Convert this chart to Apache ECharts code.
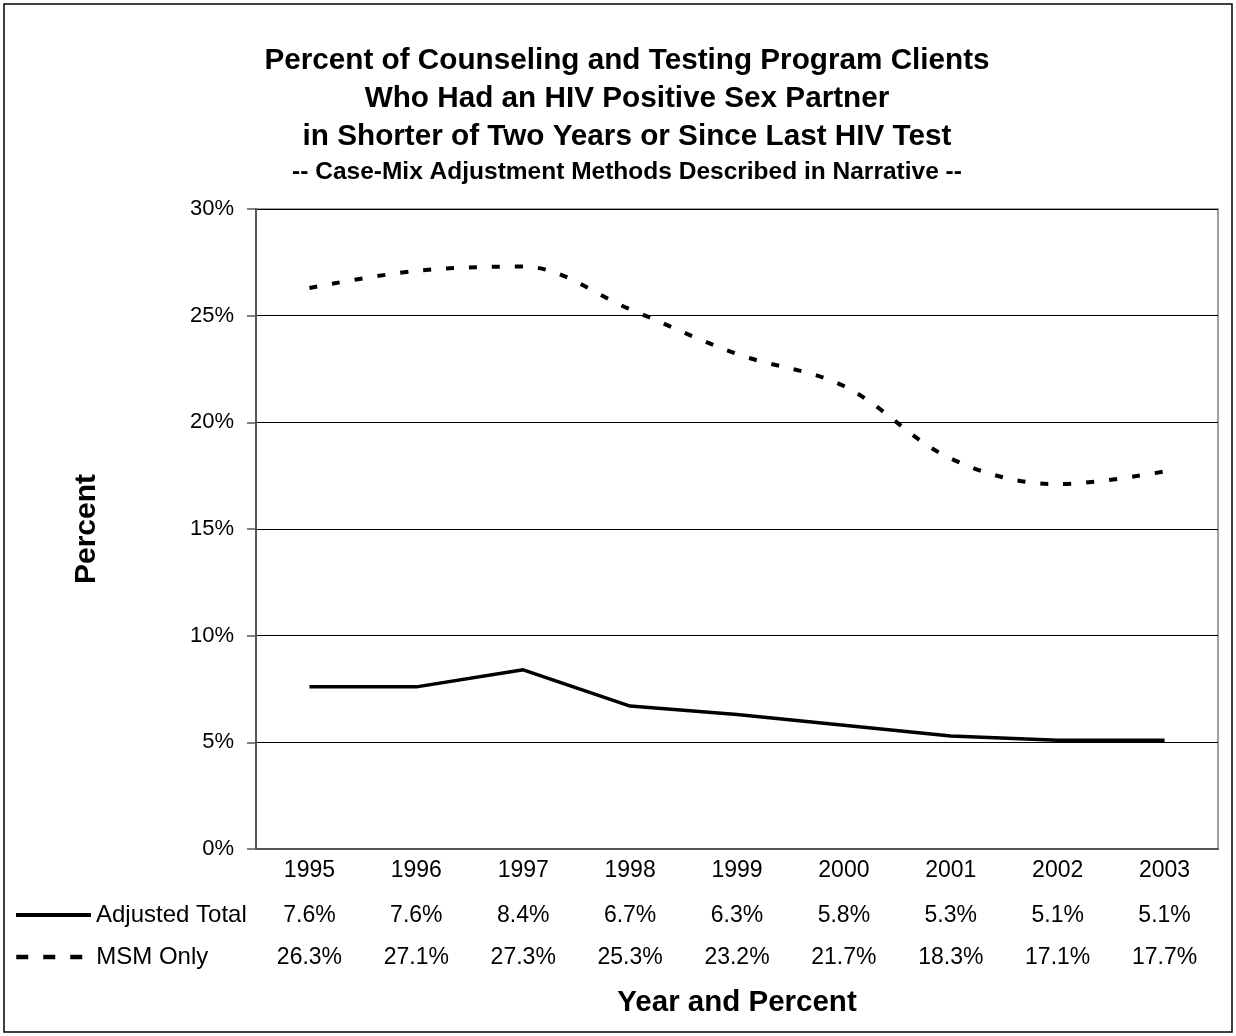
<!DOCTYPE html>
<html>
<head>
<meta charset="utf-8">
<script src="https://cdn.jsdelivr.net/npm/echarts@6/dist/echarts.min.js"></script>
<style>
html,body{margin:0;padding:0;background:#fff;}
#chart{width:1236px;height:1036px;}
</style>
</head>
<body>
<div id="chart"></div>
<script>
const years = ['1995','1996','1997','1998','1999','2000','2001','2002','2003'];
const adjustedTotal = [7.6, 7.6, 8.4, 6.7, 6.3, 5.8, 5.3, 5.1, 5.1];
const msmOnly = [26.3, 27.1, 27.3, 25.3, 23.2, 21.7, 18.3, 17.1, 17.7];
const yTicks = [0, 5, 10, 15, 20, 25, 30];

const FONT = '"Liberation Sans", Arial, sans-serif';
const chart = echarts.init(document.getElementById('chart'), null, {renderer: 'canvas'});

const tableAxis = (values, offset) => ({
  type: 'category',
  data: years,
  position: 'bottom',
  offset: offset,
  boundaryGap: true,
  axisLine: {show: false},
  axisTick: {show: false},
  splitLine: {show: false},
  axisLabel: {
    margin: 10,
    fontSize: 23,
    color: '#000',
    fontFamily: FONT,
    interval: 0,
    formatter: (v, i) => values[i].toFixed(1) + '%'
  }
});

chart.setOption({
  backgroundColor: '#fff',
  animation: false,
  textStyle: {fontFamily: FONT},
  title: {
    text: 'Percent of Counseling and Testing Program Clients\nWho Had an HIV Positive Sex Partner\nin Shorter of Two Years or Since Last HIV Test',
    subtext: '-- Case-Mix Adjustment Methods Described in Narrative --',
    left: 622,
    textAlign: 'center',
    top: 37,
    itemGap: 4,
    textStyle: {fontSize: 29.7, fontWeight: 'bold', color: '#000', lineHeight: 38, fontFamily: FONT},
    subtextStyle: {fontSize: 24.5, fontWeight: 'bold', color: '#000', lineHeight: 24, fontFamily: FONT}
  },
  legend: [
    {
      data: [{name: 'Adjusted Total'}],
      left: 14, top: 903, padding: 0,
      itemWidth: 75, itemHeight: 14, itemGap: 0,
      lineStyle: {width: 4},
      itemStyle: {opacity: 0},
      textStyle: {fontSize: 24, color: '#000', fontFamily: FONT},
      selectedMode: false
    },
    {
      data: [{name: 'MSM Only'}],
      left: 14, top: 945, padding: 0,
      itemWidth: 75, itemHeight: 14, itemGap: 0,
      lineStyle: {width: 4.5, type: [12, 15]},
      itemStyle: {opacity: 0},
      textStyle: {fontSize: 24, color: '#000', fontFamily: FONT},
      selectedMode: false
    }
  ],
  grid: {
    left: 256, top: 209, width: 962, height: 640,
    show: true, borderColor: '#808080', borderWidth: 1.5, backgroundColor: '#fff'
  },
  xAxis: [
    {
      type: 'category',
      data: years,
      boundaryGap: true,
      axisLine: {show: true, lineStyle: {color: '#555', width: 2}},
      axisTick: {show: false},
      splitLine: {show: false},
      axisLabel: {margin: 10, fontSize: 23, color: '#000', fontFamily: FONT, interval: 0},
      name: 'Year and Percent',
      nameLocation: 'middle',
      nameGap: 139,
      nameTextStyle: {fontSize: 29.5, fontWeight: 'bold', color: '#000', fontFamily: FONT}
    },
    tableAxis(adjustedTotal, 45),
    tableAxis(msmOnly, 87)
  ],
  yAxis: {
    type: 'value',
    min: yTicks[0],
    max: yTicks[yTicks.length - 1],
    interval: 5,
    axisLine: {show: true, lineStyle: {color: '#555', width: 2}},
    axisTick: {show: true, length: 9, lineStyle: {color: '#555', width: 1.5}},
    splitLine: {show: true, lineStyle: {color: '#000', width: 1}},
    axisLabel: {formatter: '{value}%', fontSize: 22, color: '#000', fontFamily: FONT, margin: 22},
    name: 'Percent',
    nameLocation: 'middle',
    nameRotate: 90,
    nameGap: 154,
    nameTextStyle: {fontSize: 30, fontWeight: 'bold', color: '#000', fontFamily: FONT}
  },
  graphic: [
    {type: 'rect', shape: {x: 4, y: 4, width: 1228, height: 1028}, style: {fill: 'none', stroke: '#000', lineWidth: 1.5}, silent: true}
  ],
  series: [
    {
      name: 'Adjusted Total',
      type: 'line',
      data: adjustedTotal,
      symbol: 'none',
      smooth: false,
      lineStyle: {color: '#000', width: 3.5, type: 'solid'},
      itemStyle: {color: '#000'}
    },
    {
      name: 'MSM Only',
      type: 'line',
      data: msmOnly,
      symbol: 'none',
      smooth: 0.35,
      lineStyle: {color: '#000', width: 4, type: [8, 15]},
      itemStyle: {color: '#000'}
    }
  ]
});
</script>
</body>
</html>
